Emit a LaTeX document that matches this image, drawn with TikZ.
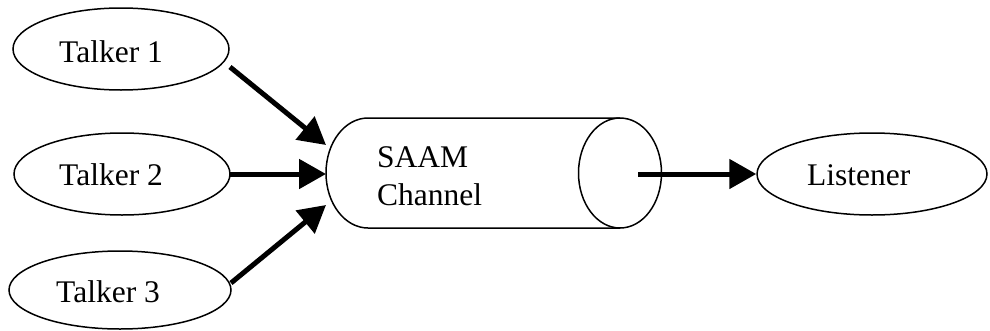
\documentclass[tikz,border=0pt]{standalone}
\usepackage{fontspec}
\setmainfont{Liberation Serif}
\usetikzlibrary{shapes.geometric,arrows.meta}
\begin{document}
\begin{tikzpicture}[x=1pt,y=-1pt,
  ell/.style={draw,ellipse,line width=1.5pt,inner sep=0pt,minimum width=#1,minimum height=82pt},
  lbl/.style={anchor=base west,inner sep=0pt,font=\fontsize{31.5}{36}\selectfont},
  flow/.style={line width=5pt,-{Triangle[length=27pt,width=29pt]}},
  cyl/.style={line width=1.5pt}]
\useasboundingbox (0,0) rectangle (990,330);
% talkers and listener
\node[ell=216pt] (t1) at (121,49) {};
\node[ell=216pt] (t2) at (122,174) {};
\node[ell=222pt,minimum height=78pt] (t3) at (120,290) {};
\node[ell=230pt] (li) at (872,174) {};
\node[lbl] (t1l) at (59,62) {Talker 1};
\node[lbl] (t2l) at (59,185) {Talker 2};
\node[lbl] (t3l) at (56,302) {Talker 3};
\node[lbl] (lil) at (807,185) {Listener};
% channel cylinder
\coordinate (cl) at (368,173);
\coordinate (cr) at (620,173);
\draw[cyl] (368,118) -- (620,118)
  (368,228) -- (620,228)
  (368,228) arc[start angle=90,end angle=270,x radius=42,y radius=55];
\draw[cyl] (cr) ellipse[x radius=41.5,y radius=55];
\node[lbl] (ch1) at (377,167) {SAAM};
\node[lbl] (ch2) at (377,205) {Channel};
% arrow ends
\coordinate (s1) at (230,67);
\coordinate (s2) at (230,174);
\coordinate (s3) at (231,283);
\coordinate (e1) at (326,145);
\coordinate (e2) at (326,174);
\coordinate (e3) at (326,205);
\coordinate (so) at (638,174);
\draw[flow] (s1) -- (e1);
\draw[flow] (s2) -- (e2);
\draw[flow] (s3) -- (e3);
\draw[flow] (so) -- (li.west);
\end{tikzpicture}
\end{document}
